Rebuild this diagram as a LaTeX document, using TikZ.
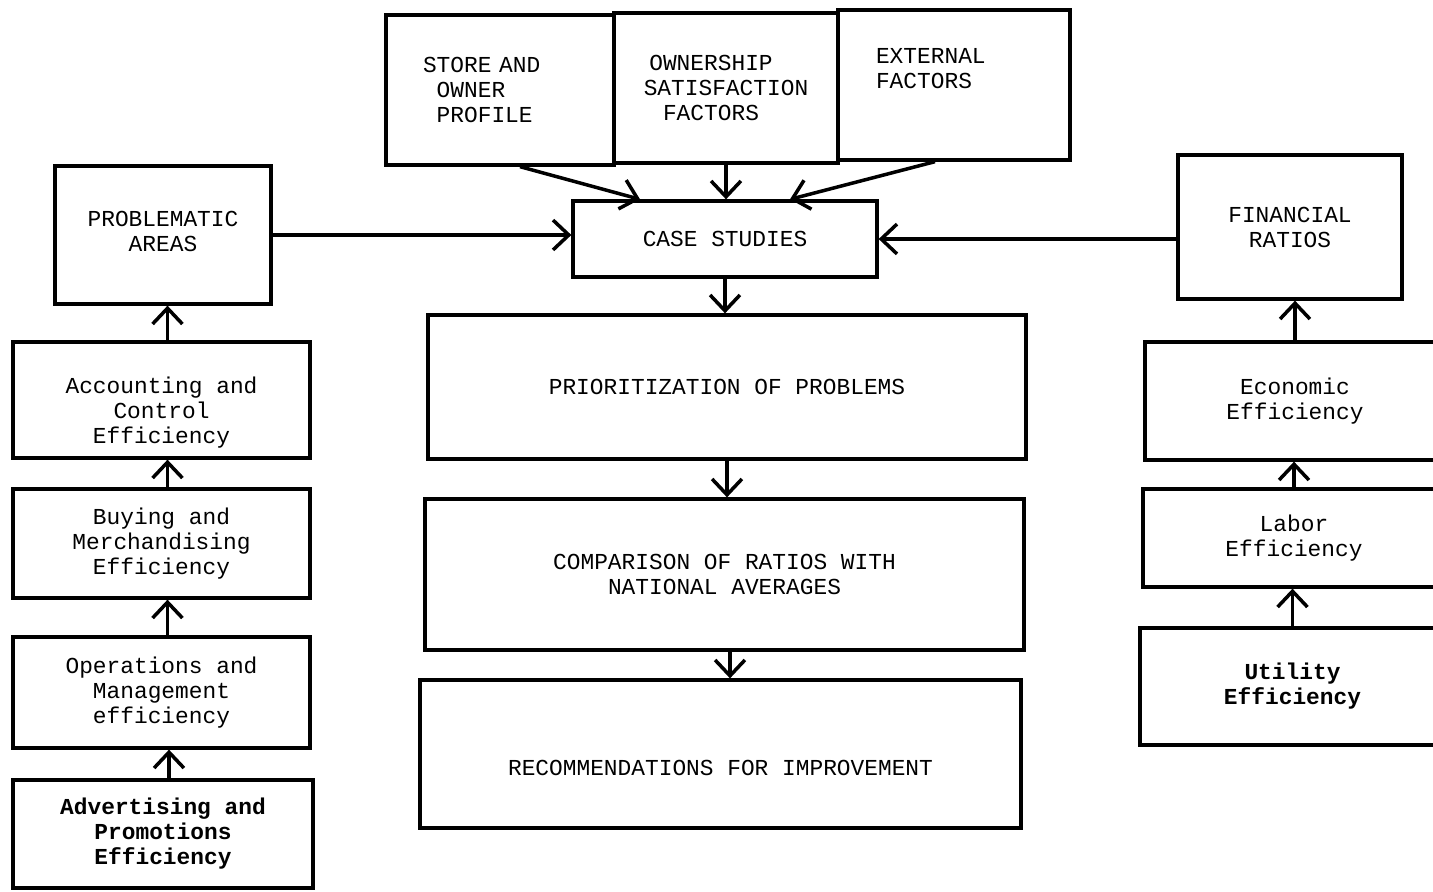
\documentclass[tikz,border=0pt]{standalone}
\usepackage{fontspec}
\newfontfamily\typewriter{Liberation Mono}
\usetikzlibrary{arrows.meta}

\begin{document}
\begin{tikzpicture}[x=0.02cm, y=-0.02cm,
    box/.style={draw, line width=1.9pt, align=center, inner sep=0pt, font=\typewriter\fontsize{13}{14.2}\selectfont},
    boldbox/.style={box, font=\typewriter\bfseries\fontsize{13}{14.2}\selectfont},
    flow/.style={line width=2pt, -{Straight Barb[length=9pt,width=17pt,line width=2pt]}}]
    \clip (0,0) rectangle (1433,892);
    \node[box, minimum width=4.56cm, minimum height=3cm, text width=3.08cm, align=left] (store) at (500,90) {STORE AND\\\phantom{S}OWNER\\\phantom{S}PROFILE};
    \node[box, minimum width=4.48cm, minimum height=3cm] (own) at (726,88) {OWNERSHIP\hspace*{0.6cm}\\SATISFACTION\hspace*{0.6cm}\\FACTORS\hspace*{0.6cm}};
    \node[box, minimum width=4.64cm, minimum height=3cm, text width=3.12cm, align=left] (ext) at (954,85) {EXTERNAL\\FACTORS\\\strut};
    \node[box, minimum width=6.08cm, minimum height=1.52cm] (case) at (725,239) {CASE STUDIES};
    \node[box, minimum width=4.32cm, minimum height=2.76cm] (prob) at (163,235) {PROBLEMATIC\\AREAS\\[-0.36cm]};
    \node[box, minimum width=4.48cm, minimum height=2.88cm] (fin) at (1290,227) {FINANCIAL\\RATIOS};
    \node[box, minimum width=11.96cm, minimum height=2.88cm] (prio) at (727,387) {PRIORITIZATION OF PROBLEMS};
    \node[box, minimum width=11.98cm, minimum height=3.02cm] (comp) at (724.5,574.5) {COMPARISON OF RATIOS WITH\\NATIONAL AVERAGES};
    \node[box, minimum width=12.02cm, minimum height=2.96cm] (rec) at (720.5,754) {\strut\\RECOMMENDATIONS FOR IMPROVEMENT};
    % left column
    \node[box, minimum width=5.94cm, minimum height=2.32cm] (acc) at (161.5,400) {\strut\\Accounting and\\Control\\Efficiency};
    \node[box, minimum width=5.94cm, minimum height=2.18cm] (buy) at (161.5,543.5) {Buying and\\Merchandising\\Efficiency};
    \node[box, minimum width=5.94cm, minimum height=2.22cm] (ops) at (161.5,692.5) {Operations and\\Management\\efficiency};
    \node[boldbox, minimum width=6cm, minimum height=2.16cm] (adv) at (163,834) {Advertising and\\Promotions\\Efficiency};
    % right column
    \node[box, minimum width=6cm, minimum height=2.36cm] (econ) at (1295,401) {Economic\\Efficiency};
    \node[box, minimum width=6.04cm, minimum height=1.96cm] (labor) at (1294,538) {Labor\\Efficiency};
    \node[boldbox, minimum width=6.1cm, minimum height=2.34cm] (util) at (1292.5,686.5) {Utility\\Efficiency};

    \draw[flow] ([xshift=0.4cm]store.south) -- ([xshift=-1.7cm]case.north);
    \draw[flow] (own.south) -- (own.south |- case.north);
    \draw[flow] ([xshift=-0.38cm]ext.south) -- ([xshift=1.3cm]case.north);
    \draw[flow] (prob.east) -- (prob.east -| case.west);
    \draw[flow] (case.east -| fin.west) -- (case.east);
    \draw[flow] (case.south) -- (case.south |- prio.north);
    \draw[flow] (prio.south) -- (prio.south |- comp.north);
    \draw[flow] ([xshift=0.11cm]comp.south) -- ([xshift=0.11cm]comp.south |- rec.north);
    \foreach \a/\b in {acc/prob, buy/acc, ops/buy, adv/ops}
        \draw[flow] ([xshift=0.12cm]\a.north) -- ([xshift=0.12cm]\a.north |- \b.south);
    \foreach \a/\b in {econ/fin, labor/econ, util/labor}
        \draw[flow] (\a.north) -- (\a.north |- \b.south);
\end{tikzpicture}
\end{document}
